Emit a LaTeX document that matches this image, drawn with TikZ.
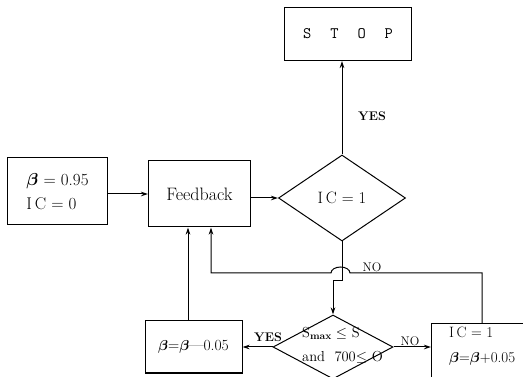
\documentclass[tikz,border=0pt]{standalone}
\usetikzlibrary{shapes.geometric,arrows.meta}
\begin{document}
\begin{tikzpicture}[x=1pt,y=-1pt,
  box/.style={draw,line width=1pt,rectangle,inner sep=0pt},
  dia/.style={draw,line width=1pt,diamond,inner sep=0pt},
  arr/.style={line width=1pt,-{Stealth[length=7pt,width=4.5pt]}},
  lab/.style={font=\fontsize{12.5}{14}\selectfont}]
\useasboundingbox (0,0) rectangle (523,377);
\clip (0,0) rectangle (523,377);
% nodes
\node[box,minimum width=127pt,minimum height=53pt,font=\ttfamily\fontsize{16}{18}\selectfont] (stop) at (348,34) {S\hspace{19pt}T\hspace{19pt}O\hspace{19pt}P};
\node[box,minimum width=100pt,minimum height=67pt,align=left,font=\fontsize{17}{24}\selectfont] (init) at (57.5,191.5)
  {{\boldmath$\beta$} = 0.95\\ I\,C = 0};
\node[box,minimum width=102pt,minimum height=66pt,font=\fontsize{18}{20}\selectfont] (fb) at (199.5,194) {Feedback};
\node[dia,minimum width=127pt,minimum height=86pt,font=\fontsize{16.5}{18}\selectfont] (ic) at (342,198) {I\,C = 1};
\node[dia,minimum width=120pt,minimum height=64pt] (sd) at (333,347) {};
\node[align=left,anchor=west,inner sep=0pt,font=\fontsize{14.5}{24}\selectfont] (sdtext) at (302,345)
  {S$_{\mathbf{max}}\leq$ S\\ and\ \ 700$\leq$ O};
\node[box,minimum width=97pt,minimum height=52pt,font=\fontsize{15.5}{17}\selectfont] (bm) at (193.5,347) {{\boldmath$\beta$}={\boldmath$\beta$}---0.05};
\node[box,minimum width=109pt,minimum height=64pt,anchor=north west] (bp) at (431,323) {};
\node[align=left,anchor=west,inner sep=0pt,font=\fontsize{15}{25}\selectfont] (bptext) at (449,346)
  {I\,C = 1\\ {\boldmath$\beta$}={\boldmath$\beta$}+0.05};
% helper coordinates
\coordinate (xl) at (188,0);
\coordinate (xr) at (211,0);
\coordinate (xb) at (482,0);
\coordinate (yl) at (0,273);
\coordinate (yj) at (0,281);
% connectors
\draw[arr] (init.east |- fb.west) -- (fb.west);
\draw[arr] (fb.east |- ic.west) -- (ic.west);
\draw[arr] (ic.north) -- (ic.north |- stop.south);
\draw[arr] (ic.south) -- (ic.south |- yj) -| (sd.north);
\draw[arr] (bp.north -| xb) -- (xb |- yl) -- (350,273)
  arc[start angle=0,end angle=-180,x radius=9.5,y radius=6] -- (xr |- yl) -- (fb.south -| xr);
\draw[arr] (bm.north -| xl) -- (fb.south -| xl);
\draw[arr] (sd.west) -- (bm.east);
\draw[arr] (sd.east) -- (bp.west |- sd.east);
% labels
\node[lab,font=\bfseries\fontsize{12.5}{14}\selectfont] (yes1) at (372,116) {YES};
\node[lab] (no1) at (372,267) {NO};
\node[lab,font=\bfseries\fontsize{12.5}{14}\selectfont] (yes2) at (268,337) {YES};
\node[lab] (no2) at (410,341) {NO};
\end{tikzpicture}
\end{document}
